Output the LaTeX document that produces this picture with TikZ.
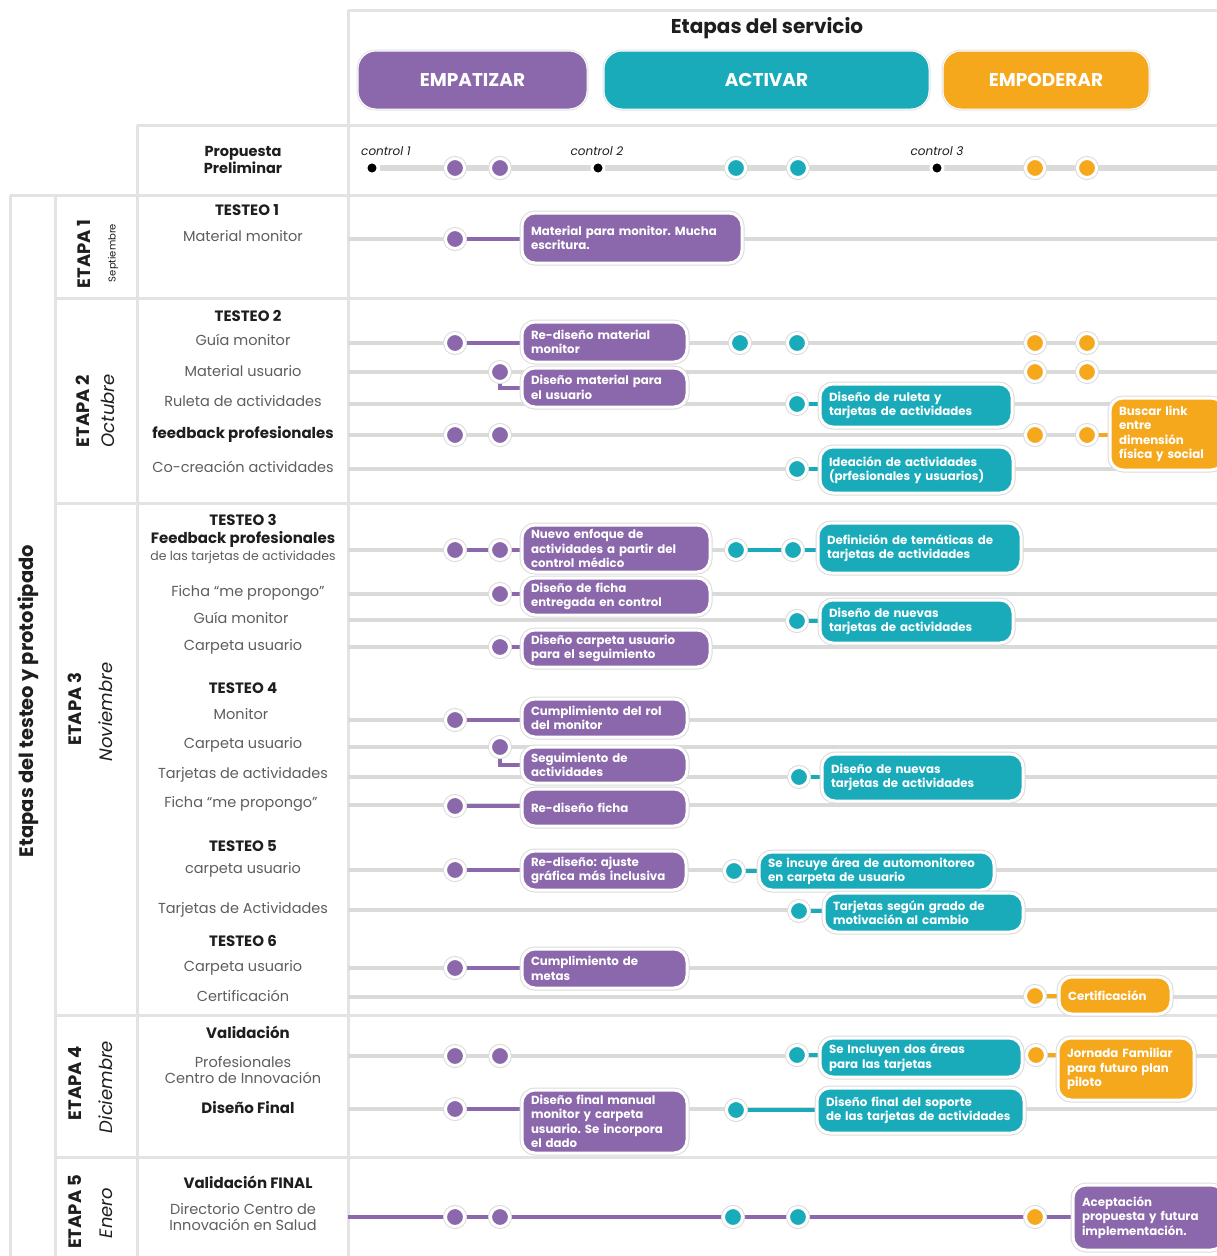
\documentclass[tikz,border=0pt]{standalone}
\usepackage{fontspec}
\setmainfont{Poppins}
\definecolor{morado}{HTML}{8B67AB}
\definecolor{turquesa}{HTML}{1AABBB}
\definecolor{naranja}{HTML}{F6A81D}
\definecolor{rejilla}{HTML}{E3E3E3}
\definecolor{fila}{HTML}{DADADA}
\definecolor{textogris}{HTML}{5E5E5E}
\definecolor{textonegro}{HTML}{1E1E1E}

\pgfdeclarelayer{fondo}
\pgfsetlayers{fondo,main}

% rounded activity card: name, colour, left, right, top, bottom, text
\newcommand\tarjeta[7]{%
  \pgfmathsetmacro\tbw{#4-#3}%
  \pgfmathsetmacro\tbh{#6-#5}%
  \pgfmathsetmacro\tbx{(#3+#4)/2}%
  \pgfmathsetmacro\tby{(#5+#6)/2}%
  \pgfmathsetmacro\tbt{#4-#3-18}%
  \node[tbox, fill=#2, minimum width=\tbw pt, minimum height=\tbh pt, text width=\tbt pt] (#1) at (\tbx,\tby) {#7};%
}

\begin{document}
\frenchspacing
\begin{tikzpicture}[x=1pt, y=-1pt,
  grid rule/.style={draw=rejilla, line width=3pt},
  row rule/.style={draw=fila, line width=4.5pt},
  halo/.style={preaction={draw=black!14, line width=5pt}, draw=white, line width=3pt},
  tbox/.style={halo, rounded corners=13pt, inner xsep=9pt, inner ysep=2pt, text=white, align=left,
    font=\fontsize{11.8}{14.5}\selectfont\bfseries},
  pill/.style={preaction={draw=black!10, line width=3pt}, draw=white, line width=1pt,
    rounded corners=18pt, minimum height=58pt, text=white, font=\fontsize{18.5}{20}\selectfont\bfseries},
  dot/.style={circle, halo, fill=#1, minimum size=19pt, inner sep=0pt},
  ctrl/.style={circle, draw=white, line width=3pt, fill=black, minimum size=12pt, inner sep=0pt},
  ctrllbl/.style={text=textonegro, font=\fontsize{12}{14}\selectfont\itshape},
  link/.style={draw=#1, line width=4pt},
  lbl/.style={text=textogris, font=\fontsize{14.5}{17}\selectfont, align=center},
  lblb/.style={text=textonegro, font=\fontsize{15}{17}\selectfont\bfseries, align=center},
  etapa/.style={rotate=90, text=textonegro, font=\fontsize{18}{20}\selectfont\bfseries},
  mes/.style={rotate=90, text=textonegro, font=\fontsize{18}{20}\selectfont\itshape},
]
\useasboundingbox (0,0) rectangle (1217,1256);

% ---------- header ----------
\node[text=textonegro, font=\fontsize{20}{22}\selectfont\bfseries] (titulo) at (767,28) {Etapas del servicio};
\node[pill, fill=morado, minimum width=229pt] (empatizar) at (472.5,80) {EMPATIZAR};
\node[pill, fill=turquesa, minimum width=325pt] (activar) at (766.5,80) {ACTIVAR};
\node[pill, fill=naranja, minimum width=206pt] (empoderar) at (1046,80) {EMPODERAR};

% ---------- preliminary proposal timeline ----------
\node[lblb, font=\fontsize{14.5}{15}\selectfont\bfseries] (propuesta) at (243,160) {Propuesta\\Preliminar};
\node[ctrl] (c1) at (372,168) {};
\node[ctrl] (c2) at (598,168) {};
\node[ctrl] (c3) at (937,168) {};
\node[ctrllbl] (lc1) at (386,151) {control 1};
\node[ctrllbl] (lc2) at (597,151) {control 2};
\node[ctrllbl] (lc3) at (937,151) {control 3};
\node[dot=morado] (p1) at (455,168) {};
\node[dot=morado] (p2) at (500,168) {};
\node[dot=turquesa] (p3) at (736,168) {};
\node[dot=turquesa] (p4) at (798,168) {};
\node[dot=naranja] (p5) at (1035,168) {};
\node[dot=naranja] (p6) at (1087,168) {};
\coordinate (pfin) at (1217,168);

% ---------- left headings ----------
\node[rotate=90, text=textonegro, font=\fontsize{19.5}{21}\selectfont\bfseries] (testeo) at (28,701) {Etapas del testeo y prototipado};
\node[etapa] (et1) at (84,254) {ETAPA 1};
\node[rotate=90, text=textonegro, font=\fontsize{10}{11}\selectfont] (mes1) at (113,253) {Septiembre};
\node[etapa] (et2) at (83,411) {ETAPA 2};
\node[mes] (mes2) at (108,411) {Octubre};
\node[etapa] (et3) at (75,709) {ETAPA 3};
\node[mes] (mes3) at (106,712) {Noviembre};
\node[etapa] (et4) at (75,1083) {ETAPA 4};
\node[mes] (mes4) at (106,1087) {Diciembre};
\node[etapa] (et5) at (75,1212) {ETAPA 5};
\node[mes] (mes5) at (106,1213) {Enero};

% ---------- row labels ----------
\node[lblb] (t1) at (247,210) {TESTEO 1};
\node[lbl] (t1a) at (243,236) {Material monitor};

\node[lblb] (t2) at (248,316) {TESTEO 2};
\node[lbl] (t2a) at (243,340) {Guía monitor};
\node[lbl] (t2b) at (243,371) {Material usuario};
\node[lbl] (t2c) at (243,401) {Ruleta de actividades};
\node[lblb] (t2d) at (243,434) {feedback profesionales};
\node[lbl] (t2e) at (243,467) {Co-creación actividades};

\node[lblb] (t3) at (243,520) {TESTEO 3};
\node[lblb] (t3a) at (243,539) {Feedback profesionales};
\node[lbl, font=\fontsize{12.5}{14}\selectfont] (t3b) at (243,557) {de las tarjetas de actividades};
\node[lbl] (t3c) at (248,593) {Ficha “me propongo”};
\node[lbl] (t3d) at (241,618) {Guía monitor};
\node[lbl] (t3e) at (243,647) {Carpeta usuario};
\node[lblb] (t4) at (243,688) {TESTEO 4};
\node[lbl] (t4a) at (241,714) {Monitor};
\node[lbl] (t4b) at (243,745) {Carpeta usuario};
\node[lbl] (t4c) at (243,775) {Tarjetas de actividades};
\node[lbl] (t4d) at (241,804) {Ficha “me propongo”};
\node[lblb] (t5) at (243,846) {TESTEO 5};
\node[lbl] (t5a) at (243,870) {carpeta usuario};
\node[lbl] (t5b) at (243,910) {Tarjetas de Actividades};
\node[lblb] (t6) at (243,941) {TESTEO 6};
\node[lbl] (t6a) at (243,968) {Carpeta usuario};
\node[lbl] (t6b) at (243,996) {Certificación};

\node[lblb] (v1) at (248,1032) {Validación};
\node[lbl] (v1a) at (243,1070) {Profesionales\\[-1pt]Centro de Innovación};
\node[lblb] (v1b) at (248,1108) {Diseño Final};

\node[lblb] (v2) at (248,1182) {Validación FINAL};
\node[lbl] (v2a) at (243,1217) {Directorio Centro de\\[-1pt]Innovación en Salud};

% ---------- etapa 1 ----------
\node[dot=morado] (d1a) at (455,239) {};
\tarjeta{b1a}{morado}{522}{742}{213}{263}{Material para monitor. Mucha\\escritura.}

% ---------- etapa 2 ----------
\node[dot=morado] (d2a) at (455,343) {};
\tarjeta{b2a}{morado}{522}{687}{322}{362}{Re-diseño material\\monitor}
\node[dot=turquesa] (d2a3) at (740,343) {};
\node[dot=turquesa] (d2a4) at (797,343) {};
\node[dot=naranja] (d2a5) at (1035,343) {};
\node[dot=naranja] (d2a6) at (1087,343) {};

\node[dot=morado] (d2b) at (500,372) {};
\tarjeta{b2b}{morado}{522}{687}{368}{407}{Diseño material para\\el usuario}
\node[dot=naranja] (d2b5) at (1035,372) {};
\node[dot=naranja] (d2b6) at (1087,372) {};

\node[dot=turquesa] (d2c) at (797,404) {};
\tarjeta{b2c}{turquesa}{820}{1012}{384}{427}{Diseño de ruleta y\\tarjetas de actividades}

\node[dot=morado] (d2d1) at (455,435) {};
\node[dot=morado] (d2d2) at (500,435) {};
\node[dot=naranja] (d2d5) at (1035,435) {};
\node[dot=naranja] (d2d6) at (1087,435) {};
\tarjeta{b2d}{naranja}{1110}{1224}{398}{470}{Buscar link\\entre\\dimensión\\física y social}

\node[dot=turquesa] (d2e) at (797,469) {};
\tarjeta{b2e}{turquesa}{820}{1013}{447}{493}{Ideación de actividades\\(prfesionales y usuarios)}

% ---------- etapa 3 ----------
\node[dot=morado] (d3a1) at (455,550) {};
\node[dot=morado] (d3a2) at (500,550) {};
\tarjeta{b3a}{morado}{522}{710}{525}{572}{Nuevo enfoque de\\actividades a partir del\\control médico}
\node[dot=turquesa] (d3a3) at (736,550) {};
\node[dot=turquesa] (d3a4) at (793,550) {};
\tarjeta{b3b}{turquesa}{818}{1021}{523}{573}{Definición de temáticas de\\tarjetas de actividades}

\node[dot=morado] (d3c) at (500,594) {};
\tarjeta{b3c}{morado}{522}{710}{578}{615}{Diseño de ficha\\entregada en control}

\node[dot=turquesa] (d3d) at (797,621) {};
\tarjeta{b3d}{turquesa}{820}{1013}{600}{643}{Diseño de nuevas\\tarjetas de actividades}

\node[dot=morado] (d3e) at (500,647) {};
\tarjeta{b3e}{morado}{522}{710}{630}{667}{Diseño carpeta usuario\\para el seguimiento}

\node[dot=morado] (d3f) at (455,720) {};
\tarjeta{b3f}{morado}{522}{687}{699}{737}{Cumplimiento del rol\\del monitor}

\node[dot=morado] (d3g) at (500,747) {};
\tarjeta{b3g}{morado}{522}{687}{747}{783}{Seguimiento de\\actividades}

\node[dot=turquesa] (d3h) at (799,777) {};
\tarjeta{b3h}{turquesa}{822}{1023}{754}{801}{Diseño de nuevas\\tarjetas de actividades}

\node[dot=morado] (d3i) at (455,806) {};
\tarjeta{b3i}{morado}{522}{687}{789}{826}{Re-diseño ficha}

\node[dot=morado] (d3j) at (455,870) {};
\tarjeta{b3j}{morado}{522}{686}{851}{890}{Re-diseño: ajuste\\gráfica más inclusiva}
\node[dot=turquesa] (d3k) at (734,871) {};
\tarjeta{b3k}{turquesa}{759}{994}{852}{890}{Se incuye área de automonitoreo\\en carpeta de usuario}

\node[dot=turquesa] (d3l) at (799,911) {};
\tarjeta{b3l}{turquesa}{824}{1023}{893}{932}{Tarjetas según grado de\\motivación al cambio}

\node[dot=morado] (d3m) at (455,968) {};
\tarjeta{b3m}{morado}{522}{687}{949}{988}{Cumplimiento de\\metas}

\node[dot=naranja] (d3n) at (1035,996) {};
\tarjeta{b3n}{naranja}{1059}{1171}{977}{1014}{Certificación}

% ---------- etapa 4 ----------
\node[dot=morado] (d4a1) at (455,1056) {};
\node[dot=morado] (d4a2) at (500,1056) {};
\node[dot=turquesa] (d4a) at (797,1055) {};
\tarjeta{b4a}{turquesa}{820}{1022}{1038}{1077}{Se Incluyen dos áreas\\para las tarjetas}
\node[dot=naranja] (d4b) at (1036,1055) {};
\tarjeta{b4b}{naranja}{1058}{1194}{1038}{1100}{Jornada Familiar\\para futuro plan\\piloto}

\node[dot=morado] (d4c) at (455,1109) {};
\tarjeta{b4c}{morado}{522}{687}{1090}{1153}{Diseño final manual\\monitor y carpeta\\usuario. Se incorpora\\el dado}
\node[dot=turquesa] (d4d) at (736,1110) {};
\tarjeta{b4d}{turquesa}{817}{1024}{1088}{1133}{Diseño final del soporte\\de las tarjetas de actividades}

% ---------- etapa 5 ----------
\coordinate (e5ini) at (348,1217);
\node[dot=morado] (d5a) at (455,1217) {};
\node[dot=morado] (d5b) at (500,1217) {};
\node[dot=turquesa] (d5c) at (733,1217) {};
\node[dot=turquesa] (d5d) at (798,1217) {};
\node[dot=naranja] (d5e) at (1035,1217) {};
\tarjeta{b5a}{morado}{1073}{1224}{1185}{1250}{Aceptación\\propuesta y futura\\implementación.}

% ---------- table rules, row lines and connectors (behind) ----------
\begin{pgfonlayer}{fondo}
  \fill[white] (0,0) rectangle (1217,1256);
  % table frame
  \draw[grid rule] (348,10) -- (1217,10);
  \draw[grid rule] (348,10) -- (348,1256);
  \draw[grid rule] (137,125) -- (1217,125);
  \draw[grid rule] (137,125) -- (137,1256);
  \draw[grid rule] (10,195) -- (1217,195);
  \draw[grid rule] (10,195) -- (10,1256);
  \draw[grid rule] (55,195) -- (55,1256);
  \foreach \yy in {298,503,1015,1157} \draw[grid rule] (55,\yy) -- (1217,\yy);
  % row lines
  \draw[draw=fila, line width=6pt] (c1) -- (pfin);
  \foreach \yy in {239,343,372,404,435,469,550,594,620,647,720,747,777,805,870,910,968,997,1056,1109}
    \draw[row rule] (348,\yy) -- (1217,\yy);
  % connectors
  \draw[link=morado] (d1a) -- (d1a -| b1a.west);
  \draw[link=morado] (d2a) -- (d2a -| b2a.west);
  \draw[link=morado] (d2b) |- (b2b);
  \draw[link=turquesa] (d2c) -- (d2c -| b2c.west);
  \draw[link=naranja] (d2d6) -- (d2d6 -| b2d.west);
  \draw[link=turquesa] (d2e) -- (d2e -| b2e.west);
  \draw[link=morado] (d3a1) -- (d3a2) -- (d3a2 -| b3a.west);
  \draw[link=turquesa] (d3a3) -- (d3a4) -- (d3a4 -| b3b.west);
  \draw[link=morado] (d3c) -- (d3c -| b3c.west);
  \draw[link=turquesa] (d3d) -- (d3d -| b3d.west);
  \draw[link=morado] (d3e) -- (d3e -| b3e.west);
  \draw[link=morado] (d3f) -- (d3f -| b3f.west);
  \draw[link=morado] (d3g) |- (b3g);
  \draw[link=turquesa] (d3h) -- (d3h -| b3h.west);
  \draw[link=morado] (d3i) -- (d3i -| b3i.west);
  \draw[link=morado] (d3j) -- (d3j -| b3j.west);
  \draw[link=turquesa] (d3k) -- (d3k -| b3k.west);
  \draw[link=turquesa] (d3l) -- (d3l -| b3l.west);
  \draw[link=morado] (d3m) -- (d3m -| b3m.west);
  \draw[link=naranja] (d3n) -- (d3n -| b3n.west);
  \draw[link=turquesa] (d4a) -- (d4a -| b4a.west);
  \draw[link=naranja] (d4b) -- (d4b -| b4b.west);
  \draw[link=morado] (d4c) -- (d4c -| b4c.west);
  \draw[link=turquesa] (d4d) -- (d4d -| b4d.west);
  \draw[link=morado] (e5ini) -- (e5ini -| b5a.west);
\end{pgfonlayer}
\end{tikzpicture}
\end{document}
